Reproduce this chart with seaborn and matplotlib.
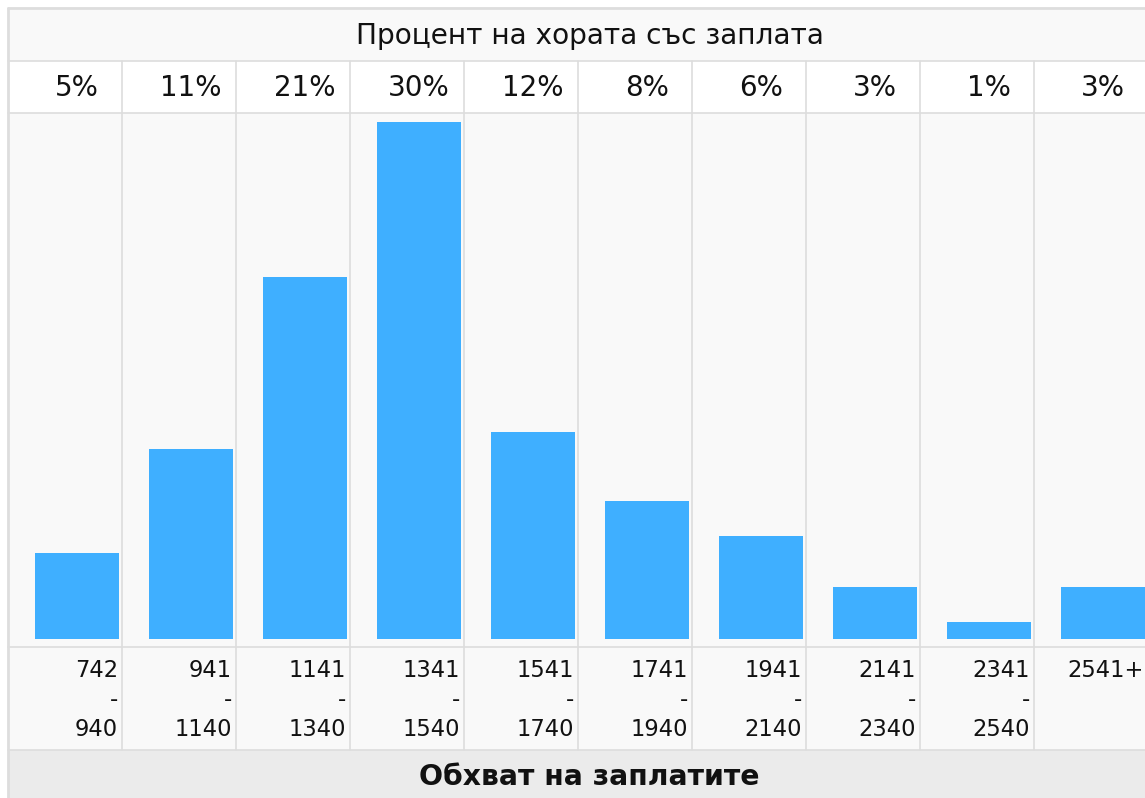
import matplotlib
matplotlib.use("Agg")
import matplotlib.pyplot as plt
import matplotlib.transforms as mtransforms
import seaborn as sns
import pandas as pd

# --- data ---
title = "Процент на хората със заплата"
footer = "Обхват на заплатите"
range_labels = ["742\n-\n940", "941\n-\n1140", "1141\n-\n1340", "1341\n-\n1540",
                "1541\n-\n1740", "1741\n-\n1940", "1941\n-\n2140", "2141\n-\n2340",
                "2341\n-\n2540", "2541+"]
percents = [5, 11, 21, 30, 12, 8, 6, 3, 1, 3]

df = pd.DataFrame({"range": range_labels, "pct": percents})

W, H = 1145, 798
BAR_COLOR = "#3fafff"
GRID = "#dddddd"
CELL = "#f9f9f9"

sns.set_style("white")
plt.rcParams["font.family"] = ["DejaVu Sans"]

fig = plt.figure(figsize=(W / 100, H / 100), dpi=100)
fig.patch.set_facecolor("white")

# background axes in pixel coordinates (table structure)
bg = fig.add_axes([0, 0, 1, 1])
bg.set_xlim(0, W)
bg.set_ylim(H, 0)
bg.axis("off")

left, col_w, ncol = 8, 114, 10
right = left + col_w * ncol
rows = [(8, 61, CELL), (61, 113, "white"), (113, 647, CELL), (647, 750, CELL), (750, H + 5, "#ebebeb")]
for y0, y1, c in rows:
    bg.add_patch(plt.Rectangle((left, y0), right + 40 - left, y1 - y0, color=c, lw=0, zorder=0))
for y in [61, 113, 647, 750]:
    bg.plot([left, right + 40], [y, y], color=GRID, lw=1.2, zorder=1)
bg.plot([left, right + 40], [8, 8], color=GRID, lw=2, zorder=1)
bg.plot([8, 8], [8, H], color=GRID, lw=2, zorder=1)
for i in range(1, ncol + 1):
    x = left + col_w * i
    bg.plot([x, x], [61, 750], color=GRID, lw=1.2, zorder=1)

bg.text(590, 36, title, ha="center", va="center", fontsize=20.2, color="#111111")
bg.text(589, 777, footer, ha="center", va="center", fontsize=20.3, fontweight="bold", color="#111111")

# bar axes spanning the bar row
ax = fig.add_axes([left / W, (H - 647) / H, (right - left) / W, (647 - 113) / H])
ax.patch.set_alpha(0)
sns.barplot(data=df, x="range", y="pct", ax=ax, color=BAR_COLOR, saturation=1,
            width=84 / 114, linewidth=0)
ax.set_xlim(-0.605, ncol - 0.605)
ax.set_ylim(-8 / 17.25, 526 / 17.25)
ax.axis("off")

# texts positioned via the bar axes' x scale
trans = mtransforms.blended_transform_factory(ax.transData, bg.transData)
for i, (lab, p) in enumerate(zip(range_labels, percents)):
    ax.text(i, 88, f"{p}%", transform=trans, ha="center", va="center",
            fontsize=20, color="#111111", clip_on=False)
    ax.text(i + 0.36, 659, lab, transform=trans, ha="right", va="top",
            multialignment="right", fontsize=16.3, linespacing=1.36,
            color="#111111", clip_on=False)

fig.savefig("out.png", dpi=100)
